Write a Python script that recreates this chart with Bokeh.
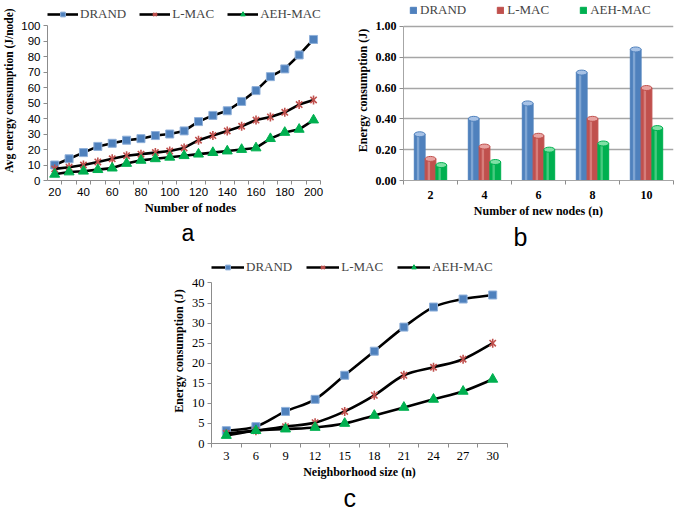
import math
from bokeh.plotting import figure
from bokeh.layouts import column, row
from bokeh.models import (Legend, LegendItem, FixedTicker, NumeralTickFormatter,
                          Title, Spacer, ColumnDataSource, Range1d)
from bokeh.embed import file_html
from bokeh.resources import INLINE

# ---------------- data ----------------
series_names = ["DRAND", "L-MAC", "AEH-MAC"]

a_nodes = [20, 30, 40, 50, 60, 70, 80, 90, 100, 110, 120, 130, 140, 150, 160, 170, 180, 190, 200]
a_drand = [10, 14, 18, 22, 24, 26, 27, 29, 30, 32, 38, 42, 45, 51, 58, 67, 72, 81, 91]
a_lmac = [7.5, 8.5, 10, 12, 14, 16, 17, 18, 19, 21, 26, 29, 32, 35, 39, 41, 44, 49, 52]
a_aeh = [4, 5.5, 6, 7, 8, 11, 13, 14, 15, 16, 17, 18, 19, 20, 21, 27, 31, 33, 39]
a_xticks = [20, 40, 60, 80, 100, 120, 140, 160, 180, 200]
a_yticks = [0, 10, 20, 30, 40, 50, 60, 70, 80, 90, 100]

b_new_nodes = [2, 4, 6, 8, 10]
b_drand = [0.30, 0.40, 0.50, 0.70, 0.85]
b_lmac = [0.14, 0.22, 0.29, 0.40, 0.60]
b_aeh = [0.10, 0.12, 0.20, 0.24, 0.34]
b_yticks = [0.0, 0.2, 0.4, 0.6, 0.8, 1.0]

c_size = [3, 6, 9, 12, 15, 18, 21, 24, 27, 30]
c_drand = [3.2, 4.2, 8, 11, 17, 23, 29, 34, 36, 37]
c_lmac = [2.5, 3.2, 4.2, 5.2, 8, 12, 17, 19, 21, 25]
c_aeh = [2, 3.2, 3.6, 4, 5, 7, 9, 11, 13, 16]
c_yticks = [0, 5, 10, 15, 20, 25, 30, 35, 40]

BLUE, RED, GREEN = "#4F81BD", "#C0504D", "#00B050"
BLUE_L, RED_L, GREEN_L = "#A7C2E6", "#E8A3A1", "#7FE0A5"
SERIF = "Liberation Serif"
SANS = "Liberation Sans"
AXIS_GRAY = "#8C8C8C"
NAN = float("nan")


def base_axes(p, xlabel, ylabel, xbounds, ybounds, tick_font=SERIF, tick_size="12px",
              tick_style="normal", xl_size="13px", yl_size="12px"):
    for ax in (p.xaxis[0], p.yaxis[0]):
        ax.axis_line_color = AXIS_GRAY
        ax.major_tick_line_color = AXIS_GRAY
        ax.minor_tick_line_color = AXIS_GRAY
        ax.major_tick_in = 0
        ax.minor_tick_in = 0
        ax.major_label_text_font = tick_font
        ax.major_label_text_font_size = tick_size
        ax.major_label_text_font_style = tick_style
        ax.major_label_text_color = "black"
        ax.major_label_text_line_height = 1.0
        ax.axis_label_text_font = SERIF
        ax.axis_label_text_font_style = "bold"
        ax.axis_label_text_color = "black"
        ax.axis_label_text_line_height = 1.0
    p.xaxis.bounds = xbounds
    p.yaxis.bounds = ybounds
    p.xaxis.axis_label = xlabel
    p.yaxis.axis_label = ylabel
    p.xaxis.axis_label_text_font_size = xl_size
    p.yaxis.axis_label_text_font_size = yl_size
    p.xaxis.axis_label_standoff = 2
    p.yaxis.axis_label_standoff = 3
    p.xaxis.major_label_standoff = 2
    p.yaxis.major_label_standoff = 3
    p.outline_line_color = None
    p.background_fill_color = None
    p.border_fill_color = None
    p.xgrid.visible = False


def letter(p, txt, off, size="25px"):
    p.add_layout(Title(text=txt, align="left", text_font=SANS, text_font_size=size,
                       text_font_style="normal", text_color="black", standoff=0,
                       text_line_height=1.0, offset=off), "below")


def add_legend(p, items, x, y, gw, gh, spacing, standoff):
    leg = Legend(items=items, orientation="horizontal", location=(x, y),
                 label_text_font=SERIF, label_text_font_size="13px",
                 glyph_width=gw, glyph_height=gh, label_standoff=standoff, spacing=spacing,
                 padding=0, margin=0, border_line_color=None,
                 background_fill_alpha=0, label_height=14)
    p.add_layout(leg)


def series_marks(p, xs, ys, k, smooth=False):
    src = ColumnDataSource(dict(x=xs, y=ys))
    rend = []
    if smooth:
        n = len(xs)
        seg = dict(x0=[], y0=[], x1=[], y1=[], cx0=[], cy0=[], cx1=[], cy1=[])
        for i in range(n - 1):
            im = max(i - 1, 0)
            ip = min(i + 2, n - 1)
            seg["x0"].append(xs[i]); seg["y0"].append(ys[i])
            seg["x1"].append(xs[i + 1]); seg["y1"].append(ys[i + 1])
            seg["cx0"].append(xs[i] + (xs[i + 1] - xs[im]) / 6.0)
            seg["cy0"].append(ys[i] + (ys[i + 1] - ys[im]) / 6.0)
            seg["cx1"].append(xs[i + 1] - (xs[ip] - xs[i]) / 6.0)
            seg["cy1"].append(ys[i + 1] - (ys[ip] - ys[i]) / 6.0)
        p.bezier(x0="x0", y0="y0", x1="x1", y1="y1", cx0="cx0", cy0="cy0",
                 cx1="cx1", cy1="cy1", source=ColumnDataSource(seg),
                 line_color="black", line_width=2.6)
        # legend proxy (NaN point, nothing drawn in the plot)
        rend.append(p.line(x=[NAN], y=[NAN], line_color="black", line_width=2.6))
    else:
        rend.append(p.line("x", "y", source=src, line_color="black", line_width=2.6))
    if k == 0:
        rend.append(p.scatter("x", "y", source=src, marker="square", size=8,
                              fill_color=BLUE, line_color="#8FB0DA", line_width=1))
    elif k == 1:
        rend.append(p.scatter("x", "y", source=src, marker="x", size=9,
                              line_color=RED, line_width=1.6))
        rend.append(p.scatter("x", "y", source=src, marker="dash", size=9, angle=math.pi / 2,
                              line_color=RED, line_width=1.6))
    else:
        rend.append(p.scatter("x", "y", source=src, marker="triangle", size=10,
                              fill_color=GREEN, line_color=GREEN))
    return rend


# ---------------- panel a ----------------
# frame 0..~180 px; data 0..100 occupies the lower part; extra strip on top holds the legend
pa = figure(width=340, height=250, output_backend="svg", toolbar_location=None,
            x_range=Range1d(15, 205 + 13 * 190 / 278), y_range=Range1d(0, 100 * 180 / 155),
            min_border_left=42, min_border_right=7, min_border_top=0, min_border_bottom=60)
base_axes(pa, "Number of nodes", "Avg energy consumption (J/node)", (15, 205), (0, 100),
          tick_font=SANS, tick_size="11.5px", xl_size="12.5px", yl_size="11.5px")
pa.xaxis.ticker = FixedTicker(ticks=a_xticks, minor_ticks=[v + 5 for v in [0] + a_nodes])
pa.yaxis.ticker = FixedTicker(ticks=a_yticks, minor_ticks=[])
pa.xaxis.major_tick_out = 0
pa.xaxis.minor_tick_out = 4
pa.yaxis.major_tick_out = 4
pa.xaxis.major_label_standoff = 3
pa.xaxis.axis_label_standoff = 2
pa.ygrid.visible = False
items = []
for k, ys in enumerate([a_drand, a_lmac, a_aeh]):
    items.append(LegendItem(label=series_names[k], renderers=series_marks(pa, a_nodes, ys, k)))
add_legend(pa, items, 0, 158, 31, 12, 13, 2)
letter(pa, "a", 134, size="23px")

# ---------------- panel b ----------------
pb = figure(width=345, height=250, output_backend="svg", toolbar_location=None,
            x_range=Range1d(1, 11), y_range=Range1d(0, 181 / 155),
            min_border_left=63, min_border_right=12, min_border_top=0, min_border_bottom=69)
base_axes(pb, "Number of new nodes (n)", "Energy consumption (J)", (1, 11), (0, 1.0),
          tick_size="12px", tick_style="bold", xl_size="12px", yl_size="12px")
pb.xaxis.ticker = FixedTicker(ticks=b_new_nodes, minor_ticks=[1, 3, 5, 7, 9, 11])
pb.yaxis.ticker = FixedTicker(ticks=b_yticks, minor_ticks=[])
pb.yaxis.formatter = NumeralTickFormatter(format="0.00")
pb.xaxis.major_tick_out = 0
pb.xaxis.minor_tick_out = 4
pb.yaxis.major_tick_out = 4
pb.xaxis.major_label_standoff = 6
pb.ygrid.grid_line_color = "#A6A6A6"
pb.ygrid.grid_line_width = 1.6
pb.xaxis.axis_line_color = "#A6A6A6"
pb.yaxis.axis_line_color = "#A6A6A6"
b_items = []
bw = 0.4
for k, (vals, c, cl) in enumerate([(b_drand, BLUE, BLUE_L), (b_lmac, RED, RED_L), (b_aeh, GREEN, GREEN_L)]):
    off = (k - 1) * bw
    xs = [x + off for x in b_new_nodes]
    src = ColumnDataSource(dict(x=xs, top=vals, hx=[x - bw * 0.15 for x in xs]))
    r = pb.vbar(x="x", top="top", bottom=0, width=bw, source=src, fill_color=c, line_color=c)
    pb.vbar(x="hx", top="top", bottom=0, width=bw * 0.22, source=src, fill_color=cl,
            fill_alpha=0.55, line_color=None)
    pb.ellipse(x="x", y="top", width=bw, height=5, height_units="screen", source=src,
               fill_color=cl, line_color=c, line_width=1)
    b_items.append(LegendItem(label=series_names[k], renderers=[r]))
add_legend(pb, b_items, 6, 162, 8, 8, 30, 3)
letter(pb, "b", 110)

# ---------------- panel c ----------------
pc = figure(width=400, height=261, output_backend="svg", toolbar_location=None,
            x_range=Range1d(1.5, 31.5), y_range=Range1d(0, 40 * 189 / 164),
            min_border_left=61, min_border_right=43, min_border_top=8, min_border_bottom=64)
base_axes(pc, "Neighborhood size (n)", "Energy consumption (J)", (1.5, 31.5), (0, 40),
          tick_size="12.5px", xl_size="12px", yl_size="12px")
pc.xaxis.ticker = FixedTicker(ticks=c_size, minor_ticks=[x - 1.5 for x in c_size] + [31.5])
pc.yaxis.ticker = FixedTicker(ticks=c_yticks, minor_ticks=[])
pc.xaxis.major_tick_out = 0
pc.xaxis.minor_tick_out = 4
pc.yaxis.major_tick_out = 4
pc.xaxis.major_label_standoff = 4
pc.ygrid.visible = False
items = []
for k, ys in enumerate([c_drand, c_lmac, c_aeh]):
    items.append(LegendItem(label=series_names[k], renderers=series_marks(pc, c_size, ys, k, smooth=True)))
add_legend(pc, items, 0, 168, 33, 12, 14, 2)
letter(pc, "c", 132)

layout = column(row(pa, pb), row(Spacer(width=150, height=261), pc))
open("out.html", "w").write(file_html(layout, INLINE))
